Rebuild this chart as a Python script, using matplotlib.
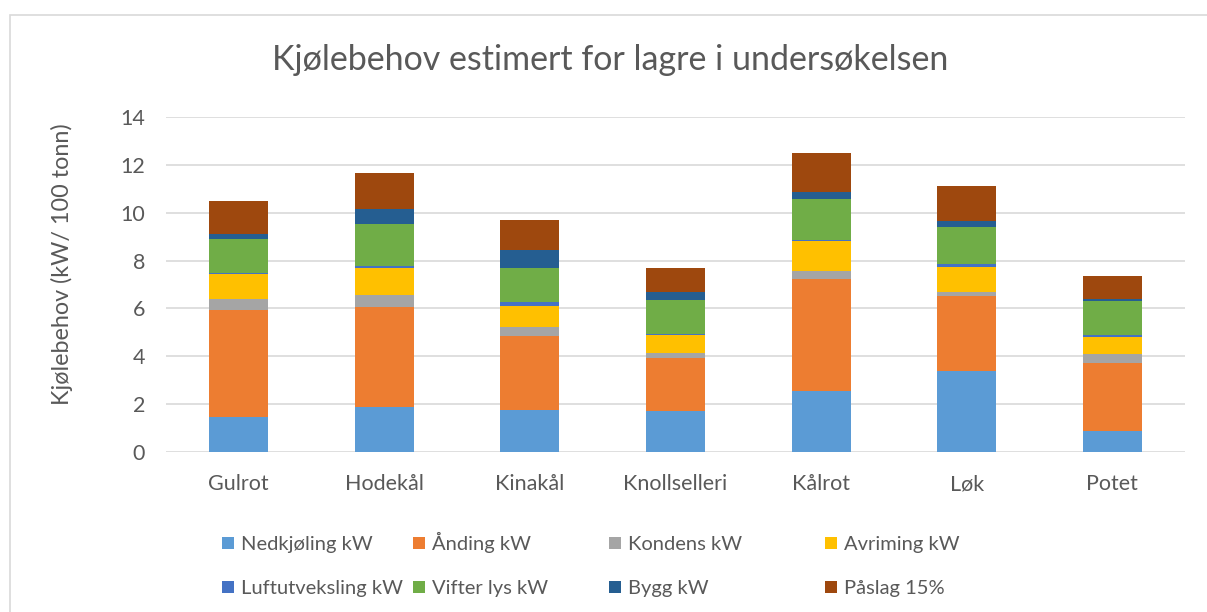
import matplotlib
matplotlib.use("Agg")
from matplotlib import pyplot as plt
from matplotlib.patches import Rectangle
import numpy as np

plt.rcParams['font.family'] = ['Lato', 'DejaVu Sans']

categories = ['Gulrot', 'Hodekål', 'Kinakål', 'Knollselleri', 'Kålrot', 'Løk', 'Potet']
series_names = ['Nedkjøling kW', 'Ånding kW', 'Kondens kW', 'Avriming kW',
                'Luftutveksling kW', 'Vifter lys kW', 'Bygg kW', 'Påslag 15%']

nedkjoling = [1.45, 1.89, 1.74, 1.73, 2.55, 3.40, 0.89]
anding = [4.49, 4.18, 3.11, 2.21, 4.67, 3.12, 2.83]
kondens = [0.47, 0.48, 0.36, 0.18, 0.34, 0.15, 0.36]
avriming = [1.02, 1.13, 0.90, 0.76, 1.24, 1.06, 0.74]
luftutveksling = [0.03, 0.09, 0.17, 0.05, 0.06, 0.11, 0.06]
vifter_lys = [1.45, 1.74, 1.40, 1.41, 1.71, 1.55, 1.43]
bygg = [0.20, 0.63, 0.75, 0.33, 0.31, 0.28, 0.10]
paslag = [1.36, 1.51, 1.26, 1.00, 1.63, 1.45, 0.96]

series = [nedkjoling, anding, kondens, avriming, luftutveksling, vifter_lys, bygg, paslag]
colors = ['#5B9BD5', '#ED7D31', '#A5A5A5', '#FFC000', '#4472C4', '#70AD47', '#255E91', '#9E480E']
text_color = '#595959'

fig = plt.figure(figsize=(12.07, 6.12), dpi=100)
ax = fig.add_axes([166 / 1207, 1 - 452 / 612, (1185 - 166) / 1207, (452 - 117) / 612])

x = np.arange(len(categories))
bottom = np.zeros(len(categories))
handles = []
for name, vals, col in zip(series_names, series, colors):
    h = ax.bar(x, vals, 0.405, bottom=bottom, color=col, label=name, zorder=3)
    handles.append(h)
    bottom += np.array(vals)

ax.set_xlim(-0.5, len(categories) - 0.5)
ax.set_ylim(0, 14)
ax.set_yticks(np.arange(0, 15, 2))
ax.set_xticks(x)
ax.set_xticklabels(categories)
ax.yaxis.grid(True, color='#D9D9D9', linewidth=1.2, zorder=0)
ax.tick_params(axis='both', length=0, labelsize=15.5, colors=text_color)
ax.tick_params(axis='x', pad=16)
ax.tick_params(axis='y', pad=15)
for s in ax.spines.values():
    s.set_visible(False)

fig.text(272 / 1207, 1 - 60 / 612, 'Kjølebehov estimert for lagre i undersøkelsen',
         fontsize=24.5, color=text_color, ha='left', va='center')
fig.text(62 / 1207, 1 - 264 / 612, 'Kjølebehov (kW/ 100 tonn)', rotation=90,
         fontsize=16.8, color=text_color, ha='center', va='center')

# legend: one small legend per entry so the columns sit where the reference has them
col_x = [222, 413, 609, 825]
row_bottom = [553, 597]
for i, (h, name) in enumerate(zip(handles, series_names)):
    leg = fig.legend([h], [name], loc='lower left',
                     bbox_to_anchor=(col_x[i % 4] / 1207, 1 - row_bottom[i // 4] / 612),
                     frameon=False, fontsize=14.5, handlelength=0.6, handleheight=0.6,
                     handletextpad=0.35, borderpad=0, borderaxespad=0)
    for t in leg.get_texts():
        t.set_color(text_color)

# chart border (clipped by the image edges on right and bottom)
fig.patches.append(Rectangle((10 / 1207, -0.1), 1.2, 1 - 15 / 612 + 0.1, transform=fig.transFigure,
                             fill=False, edgecolor='#D9D9D9', linewidth=1.2))

fig.savefig('out.png', dpi=100)
